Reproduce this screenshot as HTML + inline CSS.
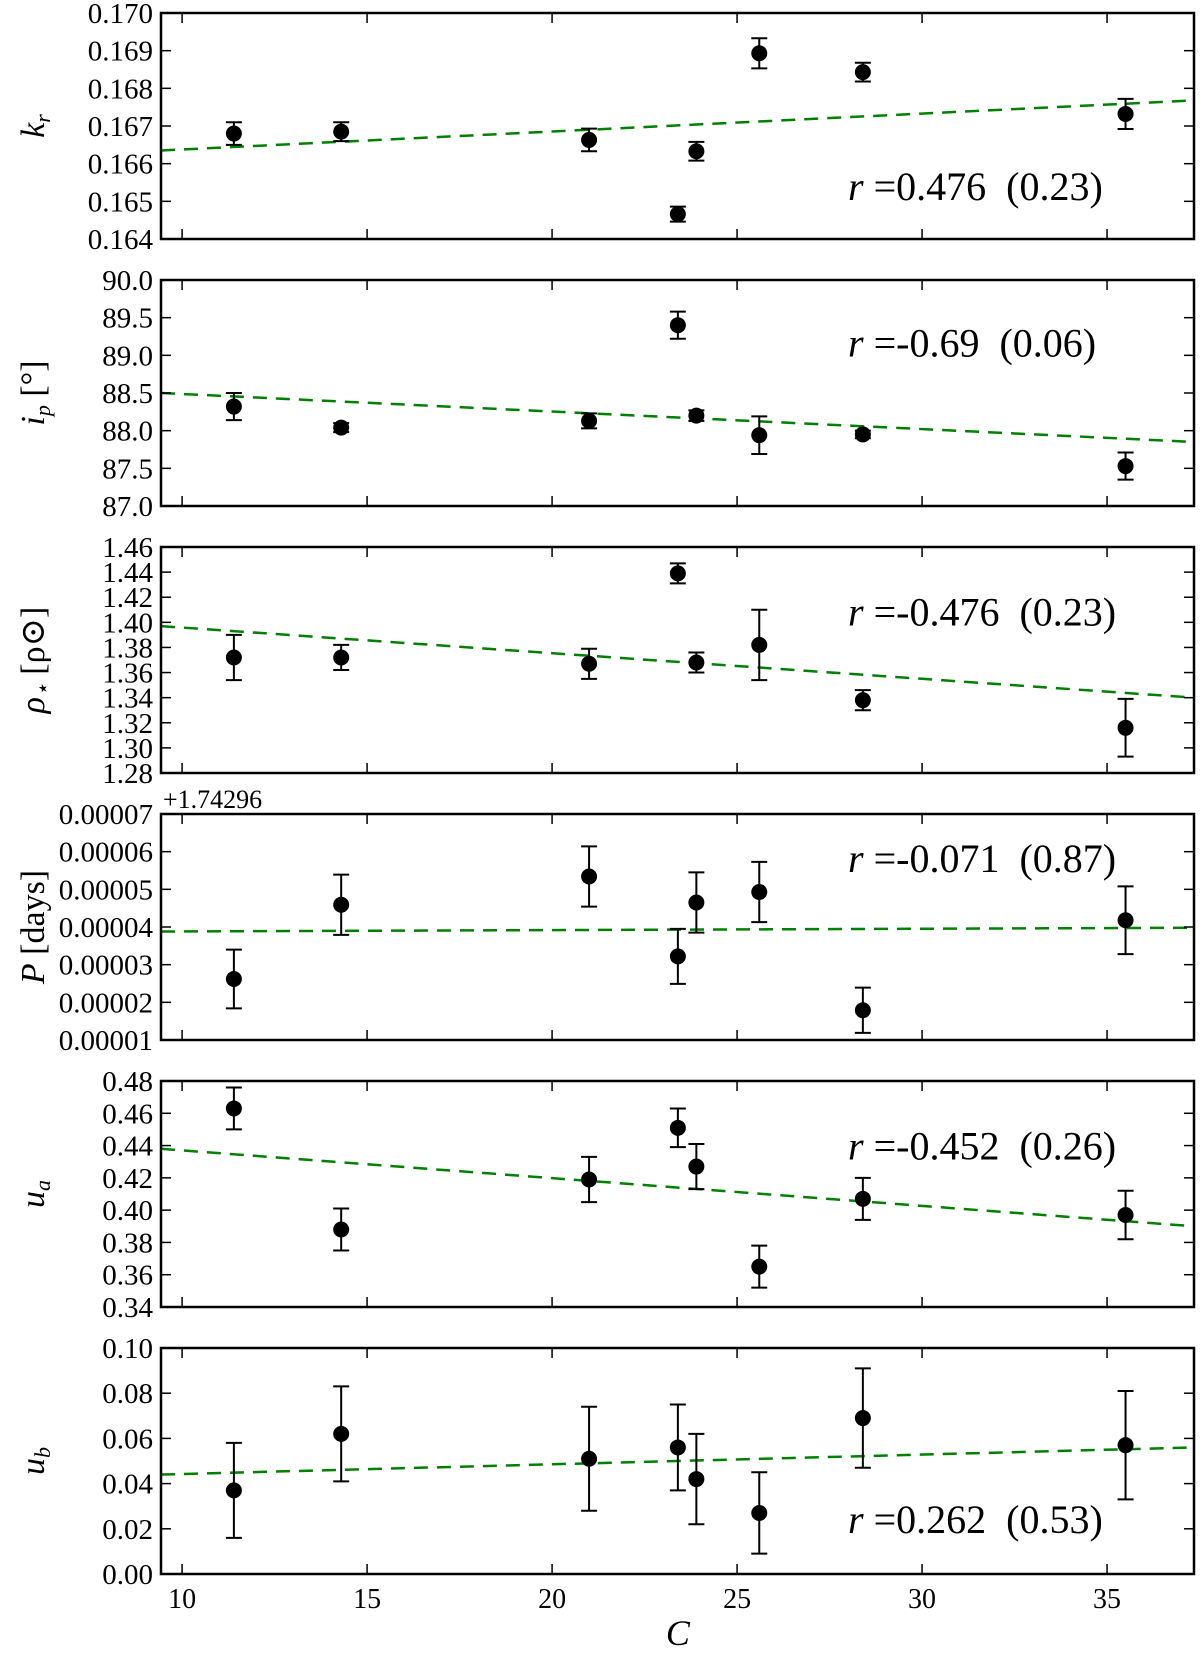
<!DOCTYPE html>
<html><head><meta charset="utf-8">
<style>
html,body{margin:0;padding:0;background:#fff;}
svg{display:block;font-family:"Liberation Serif","DejaVu Serif",serif;}
</style></head>
<body>
<svg id="chart" width="1200" height="1655" viewBox="0 0 1200 1655" xmlns="http://www.w3.org/2000/svg"></svg>
<script>
// Shared x data
const xValues = [11.4, 14.3, 21.0, 23.4, 23.9, 25.6, 28.4, 35.5];
const xTicks = [10, 15, 20, 25, 30, 35];
const xDomain = [9.43, 37.35];

// Panel 1: k_r
const krValues = [0.1668, 0.16685, 0.16663, 0.16466, 0.16633, 0.16893, 0.16843, 0.16732];
const krErrors = [0.0003, 0.00025, 0.0003, 0.0002, 0.00025, 0.0004, 0.00025, 0.0004];
const krFit = [0.16635, 0.16768];
const krTicks = ["0.164","0.165","0.166","0.167","0.168","0.169","0.170"];
// Panel 2: i_p
const ipValues = [88.32, 88.04, 88.13, 89.40, 88.20, 87.94, 87.95, 87.53];
const ipErrors = [0.18, 0.06, 0.10, 0.18, 0.07, 0.25, 0.05, 0.18];
const ipFit = [88.50, 87.85];
const ipTicks = ["87.0","87.5","88.0","88.5","89.0","89.5","90.0"];
// Panel 3: rho
const rhoValues = [1.372, 1.372, 1.367, 1.439, 1.368, 1.382, 1.338, 1.316];
const rhoErrors = [0.018, 0.010, 0.012, 0.008, 0.008, 0.028, 0.008, 0.023];
const rhoFit = [1.397, 1.340];
const rhoTicks = ["1.28","1.30","1.32","1.34","1.36","1.38","1.40","1.42","1.44","1.46"];
// Panel 4: P (offset +1.74296)
const pValues = [0.0000262, 0.0000459, 0.0000534, 0.0000322, 0.0000465, 0.0000493, 0.0000179, 0.0000418];
const pErrors = [0.0000078, 0.0000080, 0.0000080, 0.0000073, 0.0000080, 0.0000080, 0.0000060, 0.0000090];
const pFit = [0.0000388, 0.0000398];
const pTicks = ["0.00001","0.00002","0.00003","0.00004","0.00005","0.00006","0.00007"];
// Panel 5: u_a
const uaValues = [0.463, 0.388, 0.419, 0.451, 0.427, 0.365, 0.407, 0.397];
const uaErrors = [0.013, 0.013, 0.014, 0.012, 0.014, 0.013, 0.013, 0.015];
const uaFit = [0.438, 0.390];
const uaTicks = ["0.34","0.36","0.38","0.40","0.42","0.44","0.46","0.48"];
// Panel 6: u_b
const ubValues = [0.037, 0.062, 0.051, 0.056, 0.042, 0.027, 0.069, 0.057];
const ubErrors = [0.021, 0.021, 0.023, 0.019, 0.020, 0.018, 0.022, 0.024];
const ubFit = [0.044, 0.056];
const ubTicks = ["0.00","0.02","0.04","0.06","0.08","0.10"];

const corrTexts = ["r =0.476\u00a0\u00a0(0.23)","r =-0.69\u00a0\u00a0(0.06)","r =-0.476\u00a0\u00a0(0.23)","r =-0.071\u00a0\u00a0(0.87)","r =-0.452\u00a0\u00a0(0.26)","r =0.262\u00a0\u00a0(0.53)"];
const corrY = [0.77, 0.28, 0.29, 0.2, 0.29, 0.76];

const panels = [
 {name:"kr", vals:krValues, errs:krErrors, fit:krFit, ticks:krTicks, label:"k", sub:"r", extra:""},
 {name:"ip", vals:ipValues, errs:ipErrors, fit:ipFit, ticks:ipTicks, label:"i", sub:"p", extra:" [°]"},
 {name:"rho", vals:rhoValues, errs:rhoErrors, fit:rhoFit, ticks:rhoTicks, label:"ρ", sub:"⋆", extra:" [ρ⊙]"},
 {name:"period", vals:pValues, errs:pErrors, fit:pFit, ticks:pTicks, label:"P", sub:"", extra:" [days]"},
 {name:"ua", vals:uaValues, errs:uaErrors, fit:uaFit, ticks:uaTicks, label:"u", sub:"a", extra:""},
 {name:"ub", vals:ubValues, errs:ubErrors, fit:ubFit, ticks:ubTicks, label:"u", sub:"b", extra:""}
];

const svg = document.getElementById('chart');
const NS = "http://www.w3.org/2000/svg";
const L = 161, R = 1194, H = 226, PITCH = 267, TOP0 = 13;
function xs(v){ return L + (v - xDomain[0]) / (xDomain[1] - xDomain[0]) * (R - L); }
function mk(tag, attrs, parent){ const e = document.createElementNS(NS, tag); for (const k in attrs) e.setAttribute(k, attrs[k]); (parent||svg).appendChild(e); return e; }

panels.forEach((p, i) => {
  const top = TOP0 + i * PITCH, bot = top + H;
  const t0 = parseFloat(p.ticks[0]), t1 = parseFloat(p.ticks[p.ticks.length-1]);
  const ys = v => bot - (v - t0) / (t1 - t0) * H;
  const g = mk('g', {});
  
  
  const fl = mk('line', {x1:L, y1:ys(p.fit[0]), x2:R, y2:ys(p.fit[1]), stroke:'#008000', 'stroke-width':2.5, 'stroke-dasharray':'14,9'}, g);
  
  
  p.vals.forEach((v, j) => {
    const cx = xs(xValues[j]), yt = ys(v + p.errs[j]), yb = ys(v - p.errs[j]);
    const pg = mk('g', {}, g);
    
    
    mk('line', {x1:cx, y1:yt, x2:cx, y2:yb, stroke:'#000', 'stroke-width':2}, pg);
    mk('line', {x1:cx-8, y1:yt, x2:cx+8, y2:yt, stroke:'#000', 'stroke-width':2}, pg);
    mk('line', {x1:cx-8, y1:yb, x2:cx+8, y2:yb, stroke:'#000', 'stroke-width':2}, pg);
    mk('circle', {cx:cx, cy:ys(v), r:8, fill:'#000'}, pg);
  });
  const fr = mk('rect', {x:L, y:top, width:R-L, height:H, fill:'none', stroke:'#000', 'stroke-width':2.5}, g);
  
  
  p.ticks.forEach(t => {
    const y = ys(parseFloat(t));
    mk('line', {x1:L, y1:y, x2:L+10, y2:y, stroke:'#000', 'stroke-width':1.5}, g);
    mk('line', {x1:R, y1:y, x2:R-10, y2:y, stroke:'#000', 'stroke-width':1.5}, g);
    const tx = mk('text', {x:L-8, y:y+10, 'text-anchor':'end', 'font-size':29}, g);
    tx.textContent = t;
    
    
  });
  xTicks.forEach(t => {
    const x = xs(t);
    mk('line', {x1:x, y1:bot, x2:x, y2:bot-10, stroke:'#000', 'stroke-width':1.5}, g);
    mk('line', {x1:x, y1:top, x2:x, y2:top+10, stroke:'#000', 'stroke-width':1.5}, g);
    if (i === panels.length - 1) {
      const tx = mk('text', {x:x, y:bot+34, 'text-anchor':'middle', 'font-size':28}, g);
      tx.textContent = t;
      
      
    }
  });
  const cy = top + H/2;
  const yl = mk('text', {x:0, y:0, 'text-anchor':'middle', 'font-size':34, transform:`translate(44,${cy}) rotate(-90)`}, g);
  
  
  const a = mk('tspan', {'font-style':'italic'}, yl); a.textContent = p.label;
  if (p.sub) { const s = mk('tspan', {'font-size':22, dy:6, 'font-style':'italic'}, yl); s.textContent = p.sub; }
  if (p.extra) { const e = mk('tspan', {dy: p.sub ? -6 : 0}, yl); e.textContent = p.extra; }
  const ct = mk('text', {x:848, y:top + corrY[i]*H + 13, 'font-size':40}, g);
  
  
  const r1 = mk('tspan', {'font-style':'italic'}, ct); r1.textContent = 'r';
  const r2 = mk('tspan', {}, ct); r2.textContent = corrTexts[i].slice(1);
  if (p.name === 'period') {
    const off = mk('text', {x:163, y:top-6, 'font-size':26}, g);
    off.textContent = '+1.74296';
    
    
  }
});
const xl = mk('text', {x:xs(23.4), y:1645, 'text-anchor':'middle', 'font-size':36, 'font-style':'italic'});
xl.textContent = 'C';


</script>
</body></html>
